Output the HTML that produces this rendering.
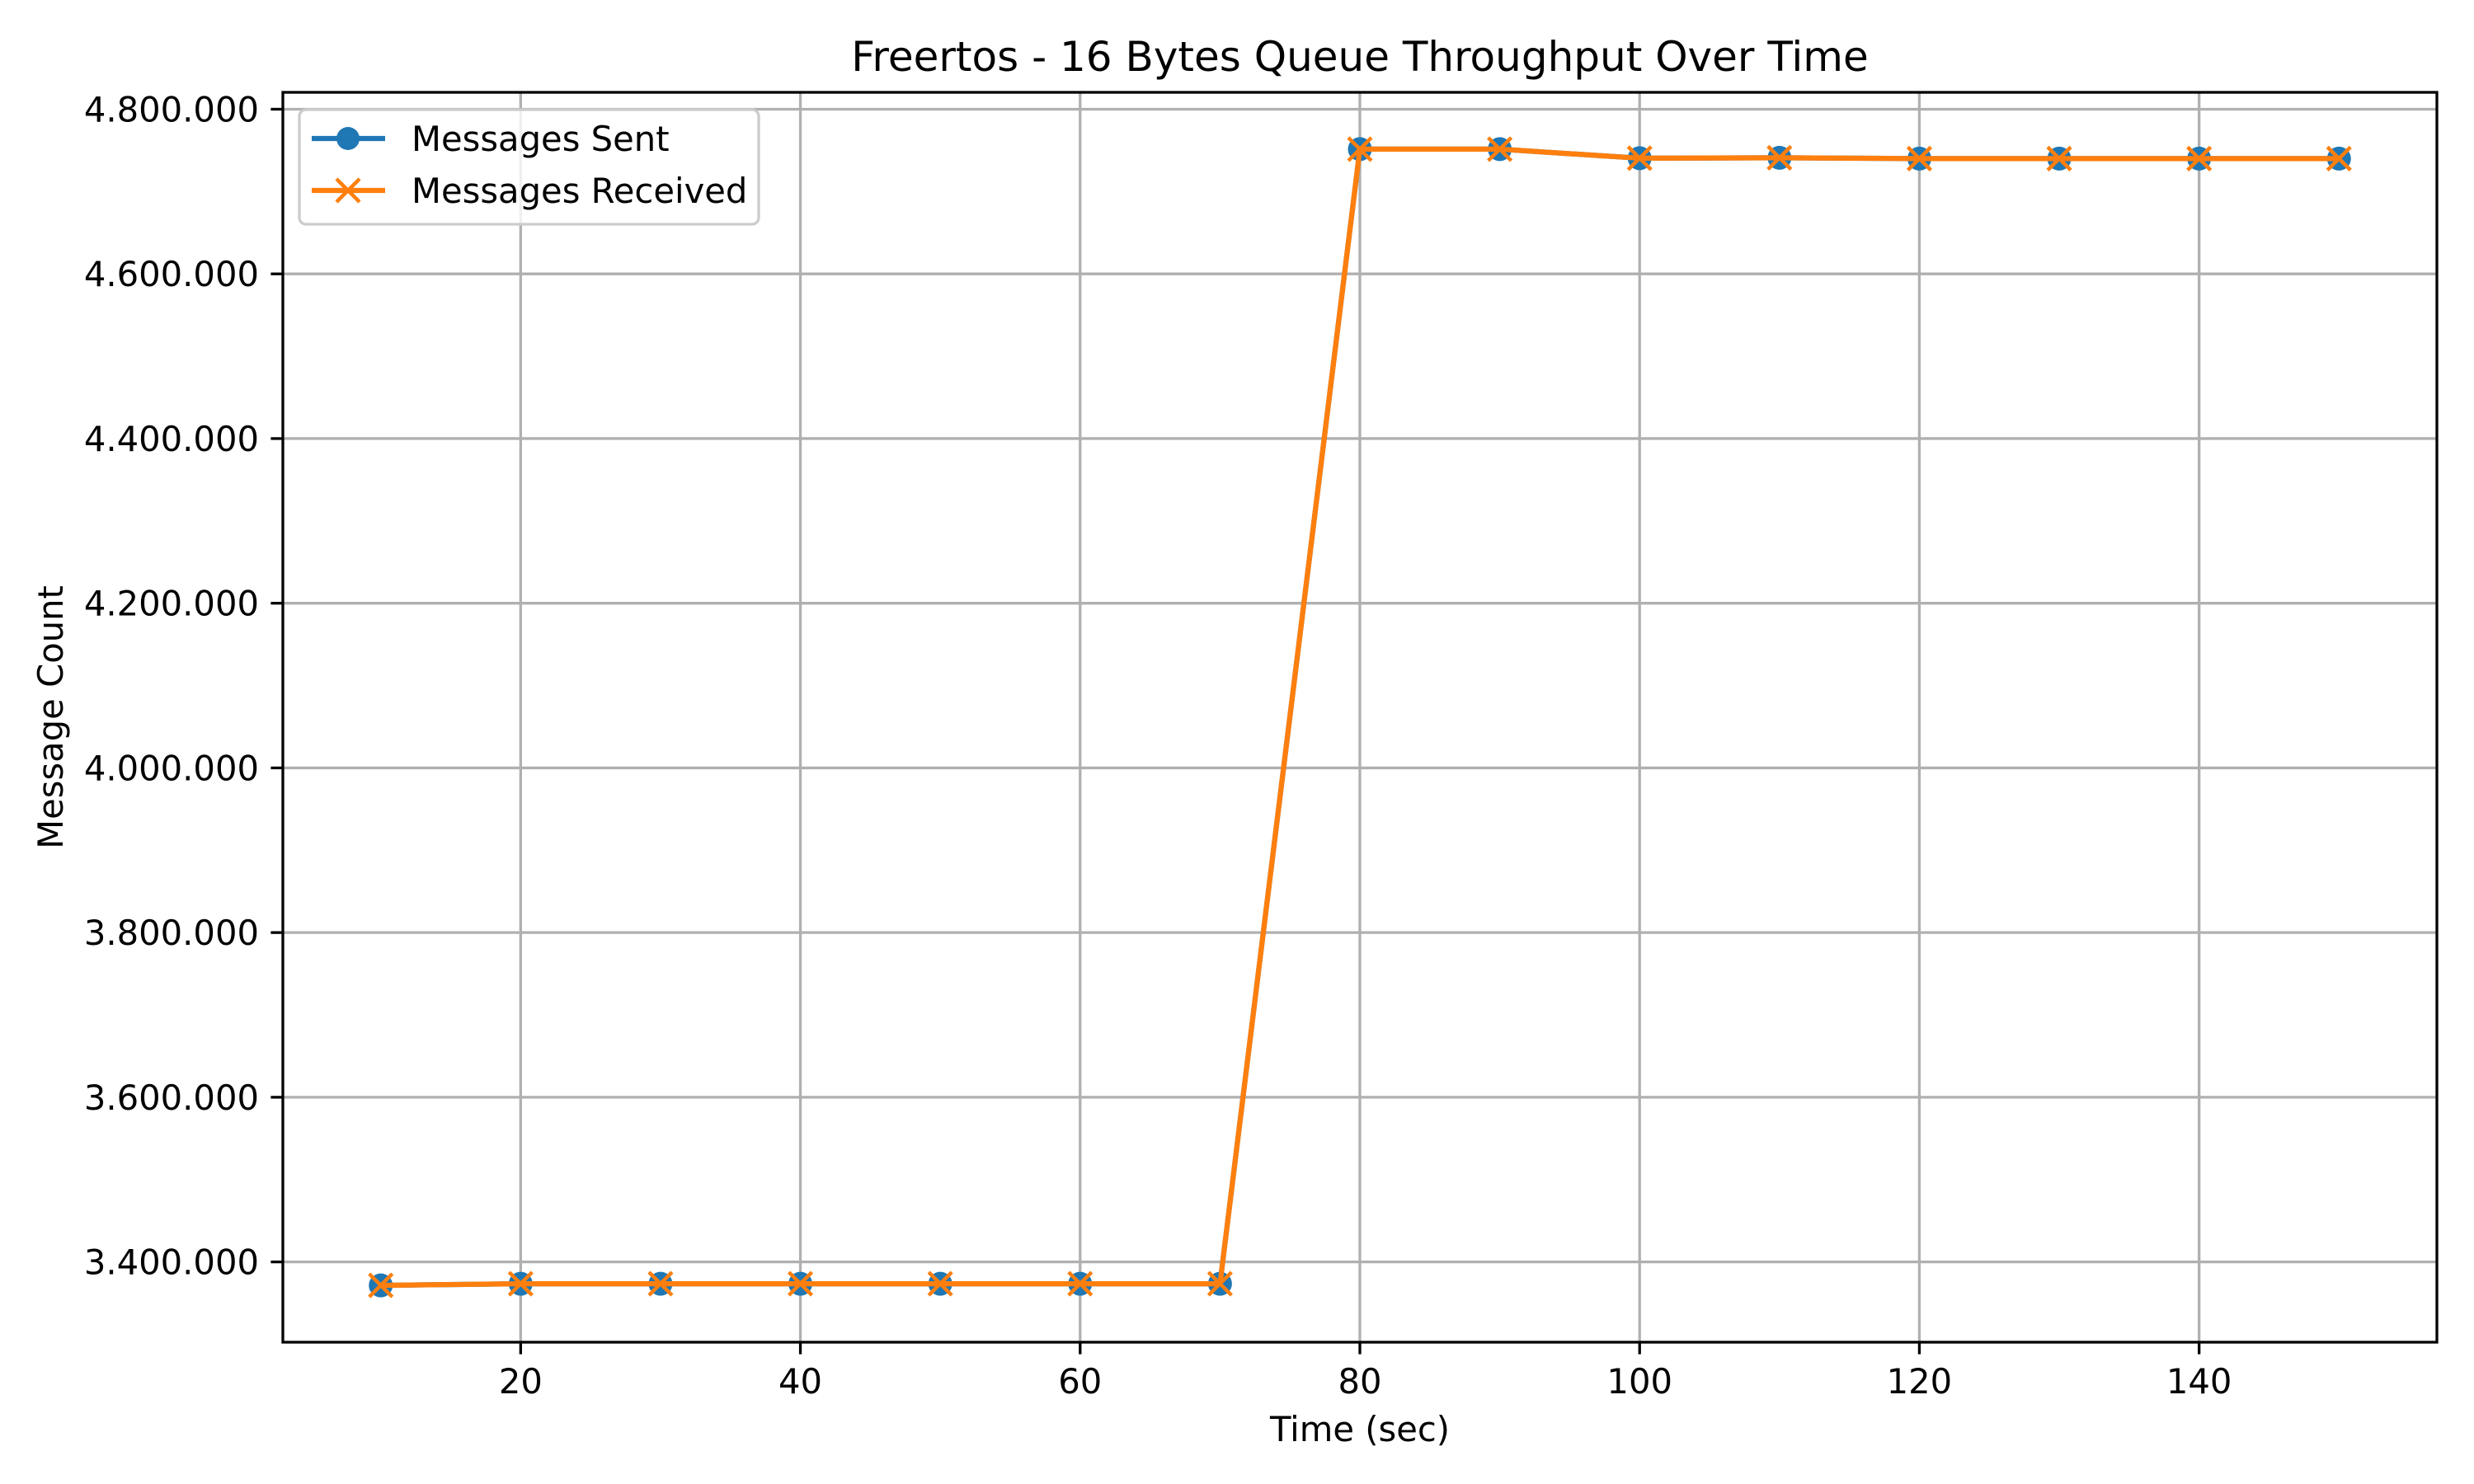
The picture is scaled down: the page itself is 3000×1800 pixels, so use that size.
<!DOCTYPE html>
<html><head><meta charset="utf-8"><style>
html,body{margin:0;padding:0;background:#fff}
svg{display:block;font-family:"DejaVu Sans","Liberation Sans",sans-serif}
</style></head><body>
<svg id="chart" width="3000" height="1800" viewBox="0 0 3000 1800">
<rect width="3000" height="1800" fill="#fff"/>
<text x="1649" y="86" font-size="50" text-anchor="middle">Freertos - 16 Bytes Queue Throughput Over Time</text>
<g id="grid"></g>
<g id="series"></g>
<rect x="343" y="112" width="2612" height="1516" fill="none" stroke="#000" stroke-width="3.3"/>
<g id="ticks"></g>
<text x="1649" y="1748" font-size="41.7" text-anchor="middle">Time (sec)</text>
<text x="0" y="0" font-size="41.7" text-anchor="middle" transform="translate(76,870) rotate(-90)">Message Count</text>
<g>
<rect x="363" y="133" width="557" height="139" rx="8" fill="#fff" fill-opacity="0.8" stroke="#ccc" stroke-width="3.3"/>
<line x1="378" y1="168" x2="467" y2="168" stroke="#1f77b4" stroke-width="6.25"/>
<circle cx="422" cy="168" r="14" fill="#1f77b4"/>
<text x="499" y="183" font-size="41.7">Messages Sent</text>
<line x1="378" y1="231" x2="467" y2="231" stroke="#ff7f0e" stroke-width="6.25"/>
<path d="M408 217L436 245M436 217L408 245" stroke="#ff7f0e" stroke-width="4.5"/>
<text x="499" y="246" font-size="41.7">Messages Received</text>
</g>
</svg>
<script>
const times = [10,20,30,40,50,60,70,80,90,100,110,120,130,140,150];
const sent = [3371500,3373500,3373500,3373500,3373500,3373500,3373500,4751500,4751500,4740500,4741000,4740000,4740000,4740000,4740000];
const received = [3371500,3373500,3373500,3373500,3373500,3373500,3373500,4751500,4751500,4740500,4741000,4740000,4740000,4740000,4740000];
const xTicks = [20,40,60,80,100,120,140];
const yTicks = [3400000,3600000,3800000,4000000,4200000,4400000,4600000,4800000];
const yTickLabels = ["3.400.000","3.600.000","3.800.000","4.000.000","4.200.000","4.400.000","4.600.000","4.800.000"];

const L=343,R=2955,T=112,B=1628;
const allY=sent.concat(received);
const yMin0=Math.min(...allY), yMax0=Math.max(...allY);
const xMin0=Math.min(...times), xMax0=Math.max(...times);
const xPad=(xMax0-xMin0)*0.05, yPad=(yMax0-yMin0)*0.05;
const xLo=xMin0-xPad, xHi=xMax0+xPad, yLo=yMin0-yPad, yHi=yMax0+yPad;
function sx(v){return L+(v-xLo)/(xHi-xLo)*(R-L);}
function sy(v){return B-(v-yLo)/(yHi-yLo)*(B-T);}
const NS="http://www.w3.org/2000/svg";
function mk(tag,attrs,parent){const e=document.createElementNS(NS,tag);for(const k in attrs)e.setAttribute(k,attrs[k]);parent.appendChild(e);return e;}
const grid=document.getElementById('grid'),ticks=document.getElementById('ticks'),series=document.getElementById('series');
xTicks.forEach(v=>{
  const x=sx(v);
  const g=mk('line',{x1:x,y1:T,x2:x,y2:B,stroke:'#b0b0b0','stroke-width':3.3},grid);
  
  
  const t=mk('line',{x1:x,y1:B,x2:x,y2:B+14.6,stroke:'#000','stroke-width':3.3},ticks);
  
  
  const l=mk('text',{x:x,y:1690,'font-size':41.7,'text-anchor':'middle'},ticks);
  l.textContent=String(v);
  
  
});
yTicks.forEach((v,i)=>{
  const y=sy(v);
  const g=mk('line',{x1:L,y1:y,x2:R,y2:y,stroke:'#b0b0b0','stroke-width':3.3},grid);
  
  
  const t=mk('line',{x1:L-14.6,y1:y,x2:L,y2:y,stroke:'#000','stroke-width':3.3},ticks);
  
  
  const l=mk('text',{x:314,y:y+15,'font-size':41.7,'text-anchor':'end'},ticks);
  l.textContent=yTickLabels[i];
  
  
});
function pts(arr){return times.map((t,i)=>sx(t)+','+sy(arr[i])).join(' ');}
const ls=mk('polyline',{points:pts(sent),fill:'none',stroke:'#1f77b4','stroke-width':6.25,'stroke-linejoin':'round'},series);


times.forEach((t,i)=>{
  const c=mk('circle',{cx:sx(t),cy:sy(sent[i]),r:14.5,fill:'#1f77b4'},series);
  
  
});
const lr=mk('polyline',{points:pts(received),fill:'none',stroke:'#ff7f0e','stroke-width':6.25,'stroke-linejoin':'round'},series);


times.forEach((t,i)=>{
  const x=sx(t),y=sy(received[i]),d=14;
  const p=mk('path',{d:`M${x-d} ${y-d}L${x+d} ${y+d}M${x+d} ${y-d}L${x-d} ${y+d}`,stroke:'#ff7f0e','stroke-width':4.5},series);
  
  
});
</script>
</body></html>
